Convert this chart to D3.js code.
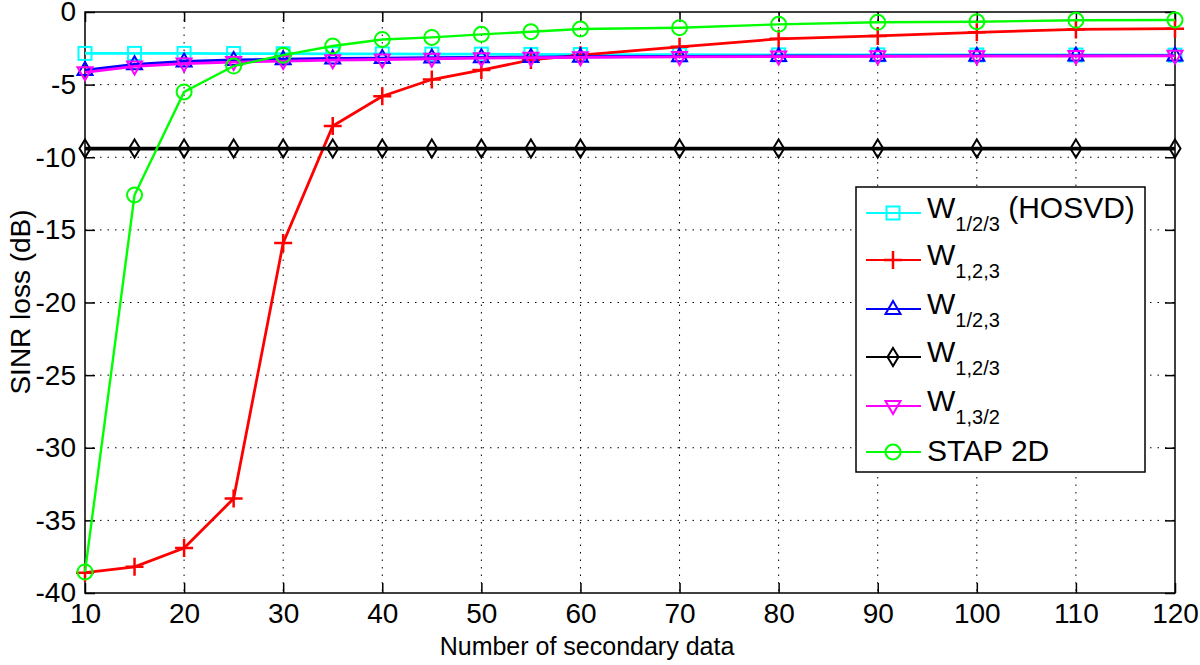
<!DOCTYPE html>
<html>
<head>
<meta charset="utf-8">
<script src="https://cdn.jsdelivr.net/npm/d3@7"></script>
<style>
  body { margin: 0; background: #fff; }
  svg text { font-family: "Liberation Sans", Arial, sans-serif; fill: #000; }
  .grid line { stroke: #000; stroke-width: 1; stroke-dasharray: 1.5,6; }
</style>
</head>
<body>
<svg id="chart" width="1200" height="665"></svg>
<script>
// number of secondary data
const xs = [10, 15, 20, 25, 30, 35, 40, 45, 50, 55, 60, 70, 80, 90, 100, 110, 120];

// SINR loss (dB) per filter
const hosvd = [-2.85, -2.85, -2.85, -2.86, -2.87, -2.88, -2.88, -2.9, -2.9, -2.92, -2.93, -2.94, -2.95, -2.95, -2.96, -2.96, -2.97];
const w123 = [-38.6, -38.2, -36.9, -33.5, -15.9, -7.85, -5.8, -4.65, -4.0, -3.3, -2.97, -2.4, -1.85, -1.65, -1.4, -1.2, -1.15];
const w12_3 = [-4.0, -3.6, -3.4, -3.3, -3.25, -3.2, -3.17, -3.14, -3.12, -3.1, -3.08, -3.05, -3.03, -3.02, -3.01, -3.0, -3.0];
const w1_23 = [-9.4, -9.4, -9.4, -9.4, -9.4, -9.4, -9.4, -9.4, -9.4, -9.4, -9.4, -9.4, -9.4, -9.4, -9.4, -9.4, -9.4];
const w13_2 = [-4.15, -3.75, -3.55, -3.45, -3.38, -3.32, -3.27, -3.22, -3.18, -3.15, -3.12, -3.09, -3.07, -3.05, -3.04, -3.03, -3.02];
const stap = [-38.55, -12.6, -5.5, -3.72, -2.97, -2.34, -1.89, -1.75, -1.54, -1.36, -1.17, -1.08, -0.85, -0.71, -0.67, -0.57, -0.55];

const xTicks = [10, 20, 30, 40, 50, 60, 70, 80, 90, 100, 110, 120];
const yTicks = [0, -5, -10, -15, -20, -25, -30, -35, -40];

const series = [
  { name: "W", sub: "1/2/3", extra: " (HOSVD)", values: hosvd, color: "#00ffff", marker: "square", width: 2.8 },
  { name: "W", sub: "1,2,3", extra: "", values: w123, color: "#ff0000", marker: "plus", width: 2.8 },
  { name: "W", sub: "1/2,3", extra: "", values: w12_3, color: "#0000ff", marker: "triangle", width: 2.8 },
  { name: "W", sub: "1,2/3", extra: "", values: w1_23, color: "#000000", marker: "diamond", width: 3.8 },
  { name: "W", sub: "1,3/2", extra: "", values: w13_2, color: "#ff00ff", marker: "triangleDown", width: 2.8 },
  { name: "STAP 2D", sub: "", extra: "", values: stap, color: "#00ff00", marker: "circle", width: 2.4 }
];

const svg = d3.select("#chart");
const plotLeft = 85, plotRight = 1175, plotTop = 12, plotBottom = 593;

const x = d3.scaleLinear().domain([10, 120]).range([plotLeft, plotRight]);
const y = d3.scaleLinear().domain([-40, 0]).range([plotBottom, plotTop]);

// grid
const grid = svg.append("g").attr("class", "grid");
grid.selectAll(".gx")
  .data(xTicks.slice(1, -1))
  .enter()
  .append("line")
  .attr("x1", (d) => x(d)).attr("x2", (d) => x(d))
  .attr("y1", plotTop).attr("y2", plotBottom);
grid.selectAll(".gy")
  .data(yTicks.slice(1, -1))
  .enter()
  .append("line")
  .attr("x1", plotLeft).attr("x2", plotRight)
  .attr("y1", (d) => y(d)).attr("y2", (d) => y(d));

// axes (inner ticks, MATLAB style)
const tick = 10;
const plain = (d) => String(d);
svg.append("g")
  .attr("transform", `translate(0,${plotBottom})`)
  .call(d3.axisBottom(x).tickValues(xTicks).tickSize(-tick).tickPadding(10).tickFormat(plain))
  .call((g) => g.select(".domain").remove());
svg.append("g")
  .attr("transform", `translate(0,${plotTop})`)
  .call(d3.axisTop(x).tickValues(xTicks).tickSize(-tick).tickFormat(""))
  .call((g) => g.select(".domain").remove());
svg.append("g")
  .attr("transform", `translate(${plotLeft},0)`)
  .call(d3.axisLeft(y).tickValues(yTicks).tickSize(-tick).tickPadding(9).tickFormat(plain))
  .call((g) => g.select(".domain").remove());
svg.append("g")
  .attr("transform", `translate(${plotRight},0)`)
  .call(d3.axisRight(y).tickValues(yTicks).tickSize(-tick).tickFormat(""))
  .call((g) => g.select(".domain").remove());

svg.selectAll(".tick line").attr("stroke", "#000").attr("stroke-width", 1.5);
svg.selectAll(".tick text").attr("font-size", 28).style("font-family", "Liberation Sans, Arial, sans-serif").attr("fill", "#000");

svg.append("rect")
  .attr("x", plotLeft).attr("y", plotTop)
  .attr("width", plotRight - plotLeft).attr("height", plotBottom - plotTop)
  .attr("fill", "none").attr("stroke", "#000").attr("stroke-width", 1.5);

// markers
function drawMarker(g, type, color) {
  if (type === "square") {
    g.append("rect").attr("x", -6.5).attr("y", -6.5).attr("width", 13).attr("height", 13)
      .attr("fill", "none").attr("stroke", color).attr("stroke-width", 2);
  } else if (type === "plus") {
    g.append("path").attr("d", "M-9,0H9M0,-9V9")
      .attr("stroke", color).attr("stroke-width", 2.5);
  } else if (type === "triangle") {
    g.append("path").attr("d", "M0,-8L7.5,5L-7.5,5Z")
      .attr("fill", "none").attr("stroke", color).attr("stroke-width", 2);
  } else if (type === "triangleDown") {
    g.append("path").attr("d", "M0,8L7.5,-5L-7.5,-5Z")
      .attr("fill", "none").attr("stroke", color).attr("stroke-width", 2);
  } else if (type === "diamond") {
    g.append("path").attr("d", "M0,-9L5.5,0L0,9L-5.5,0Z")
      .attr("fill", "none").attr("stroke", color).attr("stroke-width", 2);
  } else if (type === "circle") {
    g.append("circle").attr("r", 7.5)
      .attr("fill", "none").attr("stroke", color).attr("stroke-width", 2);
  }
}

const line = d3.line().x((d) => x(d[0])).y((d) => y(d[1]));

const plot = svg.append("g");
series.forEach((s) => {
  const pts = xs.map((v, i) => [v, s.values[i]]);
  plot.append("path")
    .datum(pts)
    .attr("d", line)
    .attr("fill", "none")
    .attr("stroke", s.color)
    .attr("stroke-width", s.width);
  plot.append("g")
    .selectAll("g")
    .data(pts)
    .enter()
    .append("g")
    .attr("transform", (d) => `translate(${x(d[0])},${y(d[1])})`)
    .each(function () { drawMarker(d3.select(this), s.marker, s.color); });
});

// legend
const legend = svg.append("g");
legend.append("rect")
  .attr("x", 856).attr("y", 187)
  .attr("width", 289).attr("height", 285)
  .attr("fill", "#fff").attr("stroke", "#000").attr("stroke-width", 1.5);

const rowY = [213, 260, 309, 357, 406, 452];
series.forEach((s, i) => {
  const row = legend.append("g").attr("transform", `translate(0,${rowY[i]})`);
  row.append("line")
    .attr("x1", 866).attr("x2", 921)
    .attr("stroke", s.color).attr("stroke-width", 2.2);
  const m = row.append("g").attr("transform", "translate(893,0)");
  drawMarker(m, s.marker, s.color);
  const t = row.append("text")
    .attr("x", 927).attr("y", s.sub ? 5 : 9)
    .attr("font-size", 30);
  t.append("tspan").text(s.name);
  if (s.sub) {
    t.append("tspan").attr("dy", 13).attr("font-size", 20).text(s.sub);
    if (s.extra) t.append("tspan").attr("dy", -13).text(s.extra);
  }
});

// axis labels
svg.append("text")
  .attr("x", 587).attr("y", 655)
  .attr("text-anchor", "middle")
  .attr("font-size", 25)
  .text("Number of secondary data");

svg.append("text")
  .attr("transform", "translate(30,302) rotate(-90)")
  .attr("text-anchor", "middle")
  .attr("font-size", 28)
  .text("SINR loss (dB)");
</script>
</body>
</html>
